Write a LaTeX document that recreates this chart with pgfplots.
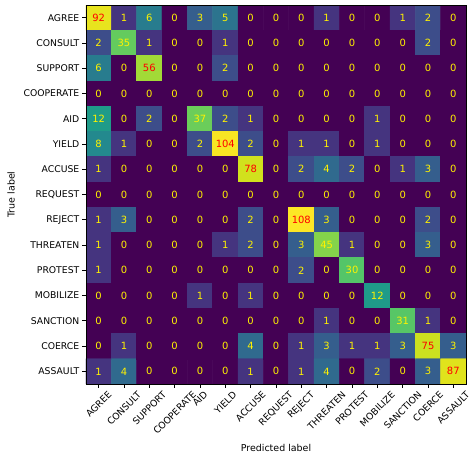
\documentclass[border=0pt]{standalone}
\usepackage{graphicx}
\usepackage{pgfplots}
\usepackage{pgfplotstable}
\usepackage{fontspec}
\setmainfont{DejaVu Sans}
\pgfplotsset{compat=1.18}
\newcommand\rl[1]{\rotatebox{45}{#1}}
\pgfplotstableread[row sep=\\]{
x y v\\
0 0 92\\1 0 1\\2 0 6\\3 0 0\\4 0 3\\5 0 5\\6 0 0\\7 0 0\\8 0 0\\9 0 1\\10 0 0\\11 0 0\\12 0 1\\13 0 2\\14 0 0\\
0 1 2\\1 1 35\\2 1 1\\3 1 0\\4 1 0\\5 1 1\\6 1 0\\7 1 0\\8 1 0\\9 1 0\\10 1 0\\11 1 0\\12 1 0\\13 1 2\\14 1 0\\
0 2 6\\1 2 0\\2 2 56\\3 2 0\\4 2 0\\5 2 2\\6 2 0\\7 2 0\\8 2 0\\9 2 0\\10 2 0\\11 2 0\\12 2 0\\13 2 0\\14 2 0\\
0 3 0\\1 3 0\\2 3 0\\3 3 0\\4 3 0\\5 3 0\\6 3 0\\7 3 0\\8 3 0\\9 3 0\\10 3 0\\11 3 0\\12 3 0\\13 3 0\\14 3 0\\
0 4 12\\1 4 0\\2 4 2\\3 4 0\\4 4 37\\5 4 2\\6 4 1\\7 4 0\\8 4 0\\9 4 0\\10 4 0\\11 4 1\\12 4 0\\13 4 0\\14 4 0\\
0 5 8\\1 5 1\\2 5 0\\3 5 0\\4 5 2\\5 5 104\\6 5 2\\7 5 0\\8 5 1\\9 5 1\\10 5 0\\11 5 1\\12 5 0\\13 5 0\\14 5 0\\
0 6 1\\1 6 0\\2 6 0\\3 6 0\\4 6 0\\5 6 0\\6 6 78\\7 6 0\\8 6 2\\9 6 4\\10 6 2\\11 6 0\\12 6 1\\13 6 3\\14 6 0\\
0 7 0\\1 7 0\\2 7 0\\3 7 0\\4 7 0\\5 7 0\\6 7 0\\7 7 0\\8 7 0\\9 7 0\\10 7 0\\11 7 0\\12 7 0\\13 7 0\\14 7 0\\
0 8 1\\1 8 3\\2 8 0\\3 8 0\\4 8 0\\5 8 0\\6 8 2\\7 8 0\\8 8 108\\9 8 3\\10 8 0\\11 8 0\\12 8 0\\13 8 2\\14 8 0\\
0 9 1\\1 9 0\\2 9 0\\3 9 0\\4 9 0\\5 9 1\\6 9 2\\7 9 0\\8 9 3\\9 9 45\\10 9 1\\11 9 0\\12 9 0\\13 9 3\\14 9 0\\
0 10 1\\1 10 0\\2 10 0\\3 10 0\\4 10 0\\5 10 0\\6 10 0\\7 10 0\\8 10 2\\9 10 0\\10 10 30\\11 10 0\\12 10 0\\13 10 0\\14 10 0\\
0 11 0\\1 11 0\\2 11 0\\3 11 0\\4 11 1\\5 11 0\\6 11 1\\7 11 0\\8 11 0\\9 11 0\\10 11 0\\11 11 12\\12 11 0\\13 11 0\\14 11 0\\
0 12 0\\1 12 0\\2 12 0\\3 12 0\\4 12 0\\5 12 0\\6 12 0\\7 12 0\\8 12 0\\9 12 1\\10 12 0\\11 12 0\\12 12 31\\13 12 1\\14 12 0\\
0 13 0\\1 13 1\\2 13 0\\3 13 0\\4 13 0\\5 13 0\\6 13 4\\7 13 0\\8 13 1\\9 13 3\\10 13 1\\11 13 1\\12 13 3\\13 13 75\\14 13 3\\
0 14 1\\1 14 4\\2 14 0\\3 14 0\\4 14 0\\5 14 0\\6 14 1\\7 14 0\\8 14 1\\9 14 4\\10 14 0\\11 14 2\\12 14 0\\13 14 3\\14 14 87\\
}\cm
\begin{document}
\begin{tikzpicture}
\begin{axis}[
  scale only axis,
  width=380bp, height=379bp,
  xmin=-0.5, xmax=14.5, ymin=-0.5, ymax=14.5,
  y dir=reverse,
  axis on top,
  colormap/viridis,
  point meta min=0, point meta max=4.69135,
  xtick={0,...,14}, ytick={0,...,14},
  xticklabels={\rl{AGREE},\rl{CONSULT},\rl{SUPPORT},\rl{COOPERATE},\rl{AID},\rl{YIELD},\rl{ACCUSE},\rl{REQUEST},\rl{REJECT},\rl{THREATEN},\rl{PROTEST},\rl{MOBILIZE},\rl{SANCTION},\rl{COERCE},\rl{ASSAULT}},
  yticklabels={AGREE,CONSULT,SUPPORT,COOPERATE,AID,YIELD,ACCUSE,REQUEST,REJECT,THREATEN,PROTEST,MOBILIZE,SANCTION,COERCE,ASSAULT},
  tick pos=left, tick align=outside,
  major tick length=3.5bp,
  tick style={black, line width=0.8bp},
  axis line style={line width=0.8bp},
  ticklabel style={font=\fontsize{9.3}{11}\selectfont},
  xticklabel style={anchor=north, inner sep=0pt, yshift=-3bp},
  yticklabel style={inner sep=3bp},
  xlabel={Predicted label}, ylabel={True label},
  label style={font=\fontsize{9.5}{11}\selectfont},
  xlabel style={at={(axis description cs:0.5,-0.169)}, anchor=center},
  ylabel style={at={(axis description cs:-0.197,0.5)}, anchor=center, rotate=0},
]
\addplot[matrix plot*, mesh/cols=15, point meta=explicit] table[x=x, y=y, meta expr={ln(\thisrow{v}+1)}] {\cm};
\addplot[only marks, mark=none, nodes near coords, point meta=explicit symbolic,
  nodes near coords style={anchor=center, text=yellow, font=\fontsize{10}{12}\selectfont},
  restrict expr to domain={\thisrow{v}}{-1:50}] table[x=x, y=y, meta=v] {\cm};
\addplot[only marks, mark=none, nodes near coords, point meta=explicit symbolic,
  nodes near coords style={anchor=center, text=red, font=\fontsize{10}{12}\selectfont},
  restrict expr to domain={\thisrow{v}}{50:200}] table[x=x, y=y, meta=v] {\cm};
\coordinate (bl) at (axis cs:-0.5,14.5);
\coordinate (tr) at (axis cs:14.5,-0.5);
\end{axis}
\pgfresetboundingbox
\path[use as bounding box] ([shift={(-86bp,-72bp)}]bl) rectangle ([shift={(5bp,5bp)}]tr);
\end{tikzpicture}
\end{document}
